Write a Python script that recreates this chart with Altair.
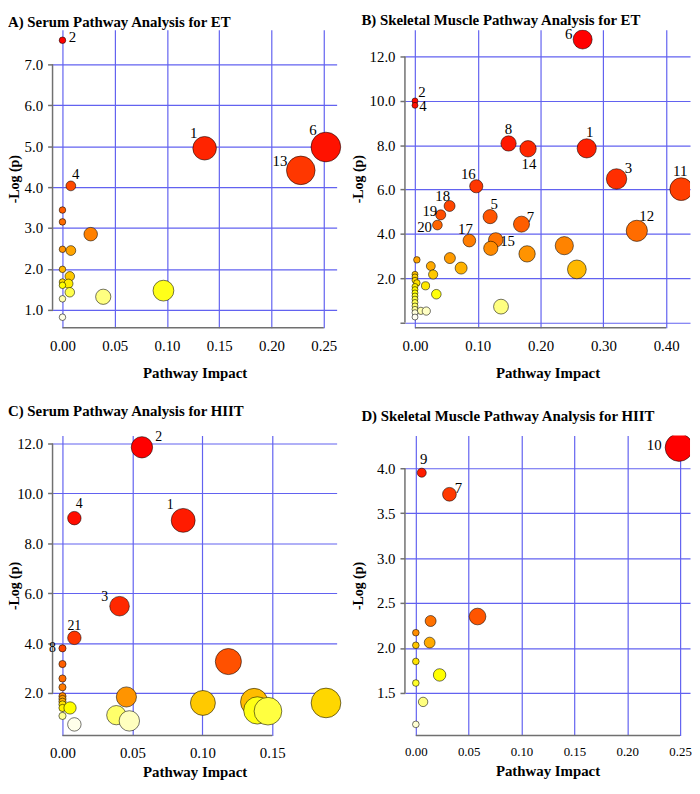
import altair as alt
import pandas as pd

FONT = "Liberation Serif"

# ---------------- data ----------------
# A) Serum, ET
A_impact = [0.0, 0.252, 0.136, 0.228, 0.008, 0.0, 0.0, 0.027, 0.0, 0.008,
            0.0, 0.007, 0.0, 0.0057, 0.0, 0.0966, 0.007, 0.039, 0.0, 0.0]
A_logp = [7.59, 4.98, 4.95, 4.41, 4.03, 3.44, 3.15, 2.85, 2.48, 2.45,
          1.99, 1.82, 1.68, 1.64, 1.60, 1.47, 1.43, 1.32, 1.27, 0.82]
A_label = ["2", "6", "1", "13", "4"] + [""] * 15

# B) Skeletal muscle, ET
B_impact = [0.267, 0.0, 0.0, 0.149, 0.2735, 0.180, 0.321, 0.0976, 0.424, 0.0551,
            0.041, 0.1197, 0.1696, 0.0357, 0.3533, 0.1286, 0.0866, 0.2378, 0.1207, 0.1785,
            0.0556, 0.003, 0.0252, 0.0735, 0.2578, 0.0, 0.0289, 0.0, 0.0, 0.003,
            0.0168, 0.0, 0.0, 0.0, 0.034, 0.0, 0.0, 0.0, 0.0, 0.137,
            0.0, 0.0094, 0.018, 0.0, 0.0]
B_logp = [12.77, 10.0, 9.8, 8.08, 7.86, 7.84, 6.48, 6.15, 6.02, 5.26,
          4.86, 4.78, 4.44, 4.40, 4.14, 3.73, 3.70, 3.47, 3.35, 3.10,
          2.91, 2.83, 2.55, 2.46, 2.40, 2.18, 2.17, 2.06, 1.91, 1.79,
          1.66, 1.63, 1.49, 1.34, 1.28, 1.20, 1.06, 0.91, 0.75, 0.72,
          0.60, 0.53, 0.52, 0.45, 0.25]
B_label = ["6", "2", "4", "8", "1", "14", "3", "16", "11", "18",
           "19", "5", "7", "20", "12", "15", "17"] + [""] * 28

# C) Serum, HIIT
C_impact = [0.0568, 0.0085, 0.0863, 0.0408, 0.0085, 0.0, 0.1186, 0.0, 0.0, 0.0,
            0.0, 0.0457, 0.0, 0.0, 0.137, 0.1004, 0.1884, 0.0, 0.0, 0.0054,
            0.1393, 0.1469, 0.0385, 0.0, 0.0478, 0.0085]
C_logp = [11.85, 9.01, 8.92, 5.48, 4.21, 3.79, 3.26, 3.16, 2.58, 2.23,
          1.87, 1.84, 1.76, 1.65, 1.64, 1.60, 1.60, 1.54, 1.40, 1.40,
          1.30, 1.27, 1.11, 1.08, 0.88, 0.74]
C_label = ["2", "4", "1", "3", "21", "8"] + [""] * 20

# D) Skeletal muscle, HIIT
D_impact = [0.249, 0.0056, 0.0318, 0.0584, 0.014, 0.0, 0.0131, 0.0, 0.0, 0.0225,
            0.0, 0.0069, 0.0]
D_logp = [4.23, 3.95, 3.71, 2.35, 2.30, 2.17, 2.06, 2.03, 1.85, 1.70,
          1.61, 1.40, 1.15]
D_label = ["10", "9", "7"] + [""] * 10

# tick values
A_xticks = [0.0, 0.05, 0.10, 0.15, 0.20, 0.25]
A_yticks = [1.0, 2.0, 3.0, 4.0, 5.0, 6.0, 7.0]
B_xticks = [0.0, 0.1, 0.2, 0.3, 0.4]
B_yticks = [0.0, 2.0, 4.0, 6.0, 8.0, 10.0, 12.0]
C_xticks = [0.0, 0.05, 0.10, 0.15]
C_yticks = [2.0, 4.0, 6.0, 8.0, 10.0, 12.0]
D_xticks = [0.0, 0.05, 0.10, 0.15, 0.20, 0.25]
D_yticks = [1.5, 2.0, 2.5, 3.0, 3.5, 4.0]

# ---------------- label placement (pixel offsets from the circle) ----------------
A_OFF = {"2": (10, -3), "1": (-11, -15), "6": (-13, -17), "13": (-21, -9), "4": (5, -12)}
B_OFF = {"6": (-14, -5), "2": (7, -9), "4": (8, 1), "8": (0, -15), "14": (1, 15),
         "1": (3, -16), "3": (12, -11), "16": (-8, -12), "11": (-1, -18), "18": (-7, -10),
         "19": (-11, -4), "20": (-13, 2), "5": (4, -13), "7": (9, -7), "12": (10, -15),
         "17": (-4, -12), "15": (12, 1)}
C_OFF = {"2": (17, -10), "4": (5, -14), "1": (-13, -16), "3": (-15, -9), "21": (0, -12), "8": (-10, 0)}
D_OFF = {"10": (-25, -3), "9": (2, -14), "7": (9, -6)}

GRID = "#6262f0"
AXIS_GRAY = "#707070"


def heat_scale(n):
    # R heat.colors(n) assigned by rank of -log(p)
    j = n // 4
    i = n - j

    def yel(s):
        return "#ffff%02x" % int(round(255 * (1 - s)))

    return alt.Scale(domain=[1, i, i + 1, n],
                     range=["#ff0000", "#ffff00", yel(1 - 1 / (2 * j)), yel(1 / (2 * j))],
                     interpolate="rgb")


def panel(impact, logp, labels, offsets, title, xticks, yticks, xdom, ydom, w, h,
          size_exp, size_range, clip, title_offset, title_dx, ytitle_x,
          x_label_size=15, x_label_pad=11, x_title_pad=12, text_size=15, ylabel_expr=None):
    df = pd.DataFrame({"impact": impact, "logp": logp, "label": labels})
    n = len(df)
    xs = alt.Scale(domain=xdom, nice=False, zero=False)
    ys = alt.Scale(domain=ydom, nice=False, zero=False)

    xaxis = alt.Axis(values=xticks, format=".2f", title="Pathway Impact", grid=True,
                     gridColor=GRID, gridWidth=1.2, domain=False, ticks=False,
                     labelPadding=x_label_pad, titlePadding=x_title_pad,
                     labelFontSize=x_label_size, labelFlush=False, labelOverlap=False,
                     labelFont=FONT, labelColor="#000",
                     titleFont=FONT, titleFontSize=15, titleFontWeight="bold", titleColor="#000")
    ykw = dict(values=yticks, format=".1f", title="-Log (p)", grid=True,
               gridColor=GRID, gridWidth=1.2, domain=False, ticks=True, tickSize=5,
               tickColor=AXIS_GRAY, tickWidth=1.5, labelPadding=5, labelFontSize=15,
               labelOverlap=False, labelFont=FONT, labelColor="#000",
               titleFont=FONT, titleFontSize=14, titleFontWeight="bold", titleColor="#000",
               titleX=ytitle_x, titleY=h / 2)
    if ylabel_expr:
        ykw["labelExpr"] = ylabel_expr
    yaxis = alt.Axis(**ykw)

    one = pd.DataFrame({"k": [0]})
    yline = alt.Chart(one).mark_rule(color=AXIS_GRAY, strokeWidth=1.5).encode(
        x=alt.XDatum(xdom[0], scale=xs, axis=xaxis, title="Pathway Impact"),
        y=alt.YDatum(yticks[0], scale=ys, axis=yaxis, title="-Log (p)"),
        y2=alt.Y2Datum(yticks[-1]),
    )
    xline = alt.Chart(one).mark_rule(color=AXIS_GRAY, strokeWidth=1.5).encode(
        y=alt.YDatum(ydom[0], scale=ys, axis=yaxis, title="-Log (p)"),
        x=alt.XDatum(xticks[0], scale=xs, axis=xaxis, title="Pathway Impact"),
        x2=alt.X2Datum(xticks[-1]),
    )

    points = alt.Chart(df).transform_window(
        rank="row_number()", sort=[alt.SortField("logp", order="descending")]
    ).mark_circle(opacity=1, stroke="#000", strokeWidth=1, strokeOpacity=0.55, clip=clip).encode(
        x=alt.X("impact:Q", scale=xs, axis=xaxis, title="Pathway Impact"),
        y=alt.Y("logp:Q", scale=ys, axis=yaxis, title="-Log (p)"),
        color=alt.Color("rank:Q", scale=heat_scale(n), legend=None),
        size=alt.Size("impact:Q", scale=alt.Scale(type="pow", exponent=size_exp,
                                                  domain=[0, max(impact)], range=size_range),
                      legend=None),
        order=alt.Order("rank:Q", sort="ascending"),
    )

    texts = []
    for lab, (dx, dy) in offsets.items():
        texts.append(
            alt.Chart(df).transform_filter(alt.datum.label == lab).mark_text(
                dx=dx, dy=dy, font=FONT, fontSize=text_size, color="#000",
                align="center", baseline="middle"
            ).encode(
                x=alt.X("impact:Q", scale=xs, axis=xaxis, title="Pathway Impact"),
                y=alt.Y("logp:Q", scale=ys, axis=yaxis, title="-Log (p)"),
                text="label:N",
            )
        )

    return alt.layer(yline, xline, points, *texts).properties(
        width=w, height=h,
        title=alt.TitleParams(title, anchor="start", frame="group", offset=title_offset,
                              dx=title_dx, font=FONT, fontSize=15, fontWeight="bold",
                              color="#000"),
    )


pA = panel(A_impact, A_logp, A_label, A_OFF, "A) Serum Pathway Analysis for ET",
           A_xticks, A_yticks, [-0.0095, 0.2623], [0.564, 7.847], 287, 301,
           0.8, [44, 900], False, 0, -45, -31)
pB = panel(B_impact, B_logp, B_label, B_OFF, "B) Skeletal Muscle Pathway Analysis for ET",
           B_xticks, B_yticks, [-0.016, 0.438], [-0.23, 13.21], 288, 301,
           0.85, [36, 529], True, 0, -44, -40,
           ylabel_expr="datum.value == 0 ? '' : format(datum.value, '.1f')")
pC = panel(C_impact, C_logp, C_label, C_OFF, "C) Serum Pathway Analysis for HIIT",
           C_xticks, C_yticks, [-0.0071, 0.196], [0.294, 12.32], 287, 303,
           0.6, [53, 900], False, 12, -45, -31,
           x_label_pad=10, x_title_pad=4, text_size=14)
pD = panel(D_impact, D_logp, D_label, D_OFF, "D) Skeletal Muscle Pathway Analysis for HIIT",
           D_xticks, D_yticks, [-0.0103, 0.2594], [1.026, 4.363], 288, 303,
           0.78, [45, 784], True, 12, -44, -40,
           x_label_size=13, x_label_pad=10, x_title_pad=5)

chart = alt.concat(pA, pB, pC, pD, columns=2, spacing={"row": 109, "column": 69},
                   bounds="flush").resolve_scale(
    color="independent", size="independent"
).properties(
    padding=0
).configure(font=FONT).configure_view(stroke=None)

chart.save("out.html", embed_options={"renderer": "svg", "actions": False})
